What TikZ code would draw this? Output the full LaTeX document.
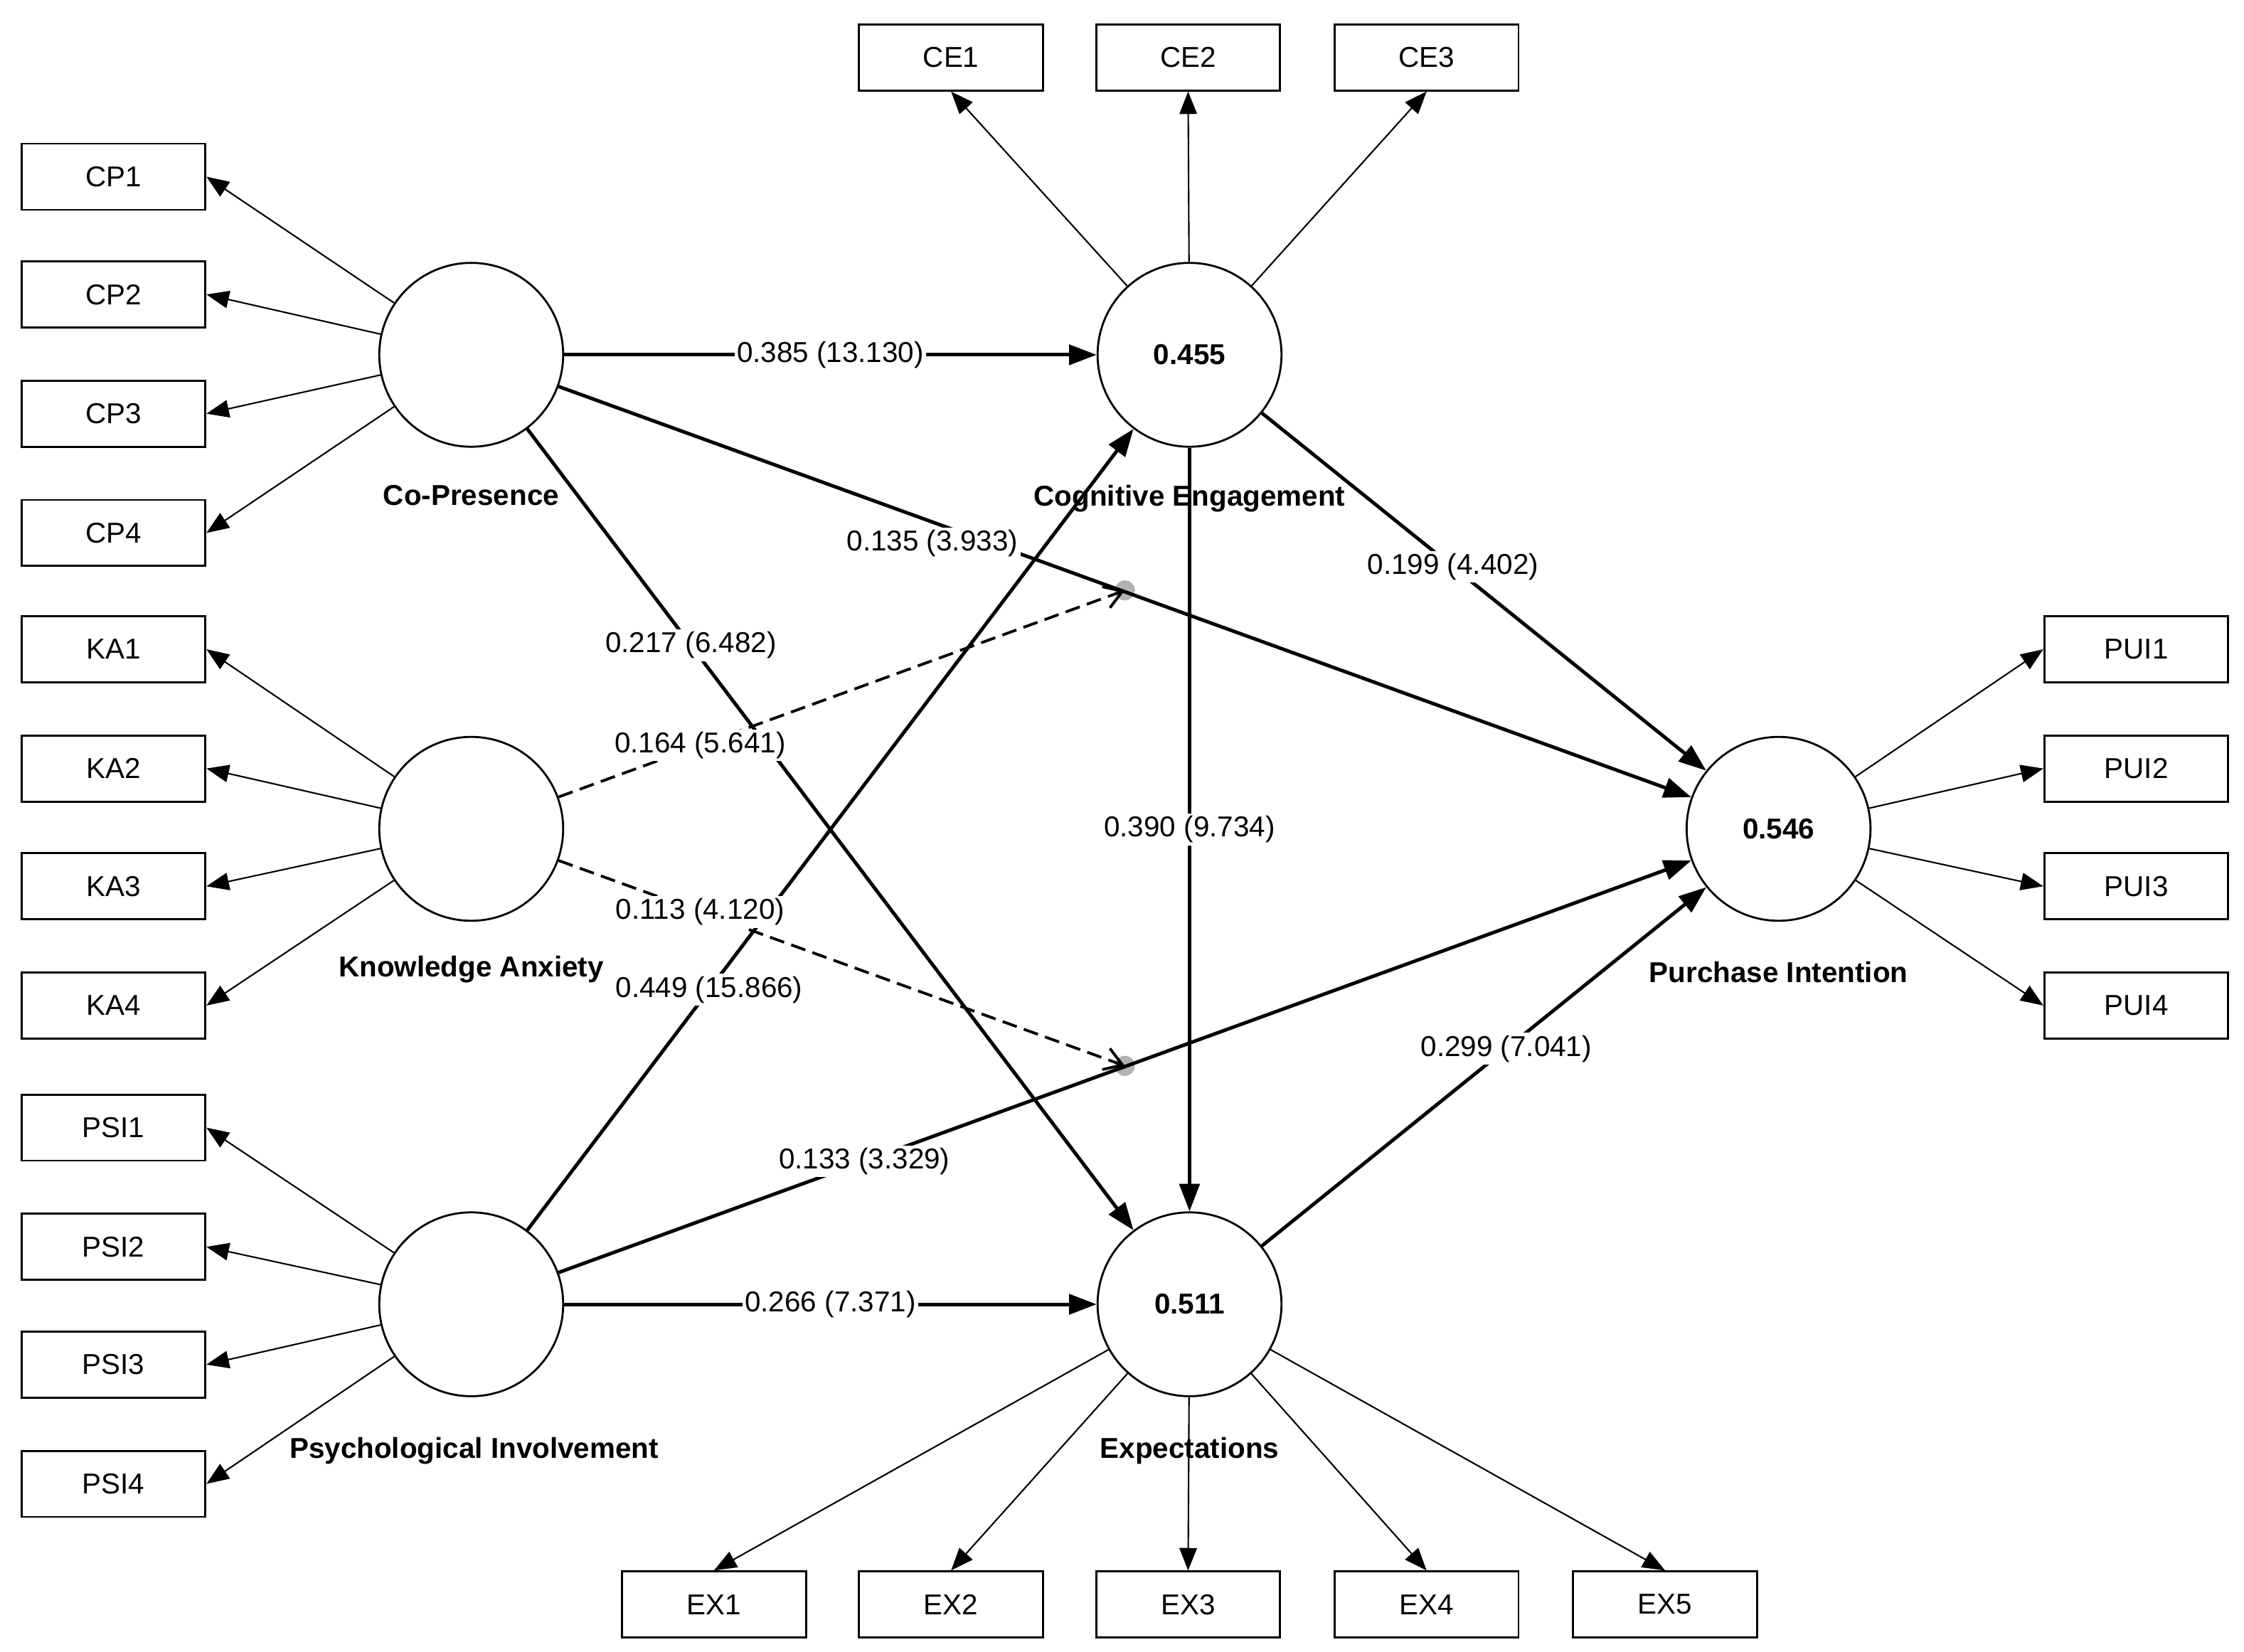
\documentclass[tikz,border=0pt]{standalone}
\usepackage{fontspec}
\setmainfont{Liberation Sans}
\usetikzlibrary{arrows.meta}
\begin{document}
\begin{tikzpicture}[x=0.0202cm,y=-0.0202cm,
 box/.style={draw,thick,minimum width=128*0.0202cm,minimum height=46*0.0202cm,inner sep=0pt,font=\fontsize{11.5}{13}\selectfont},
 lv/.style={draw,thick,circle,minimum size=128*0.0202cm,inner sep=0pt,font=\bfseries\fontsize{11.5}{13}\selectfont},
 lab/.style={font=\bfseries\fontsize{11.5}{13}\selectfont},
 coef/.style={fill=white,inner sep=1pt,font=\fontsize{11.5}{13}\selectfont},
 ld/.style={-{Triangle[length=9pt,width=7pt]},semithick},
 st/.style={-{Triangle[length=11pt,width=8pt]},line width=1.4pt},
 md/.style={-{Straight Barb[length=7pt,width=9pt]},line width=1.1pt,dashed,dash pattern=on 6pt off 3pt}]
\useasboundingbox (0,0) rectangle (1562,1150);
\foreach \n/\y in {CP1/123,CP2/205,CP3/288,CP4/371,KA1/452,KA2/535,KA3/617,KA4/700,PSI1/785,PSI2/868,PSI3/950,PSI4/1033}
  \node[box] (\n) at (79,\y) {\n};
\foreach \n/\y in {PUI1/452,PUI2/535,PUI3/617,PUI4/700}
  \node[box] (\n) at (1487,\y) {\n};
\foreach \n/\x in {CE1/662,CE2/827,CE3/993}
  \node[box] (\n) at (\x,40) {\n};
\foreach \n/\x in {EX1/497,EX2/662,EX3/827,EX4/993,EX5/1159}
  \node[box] (\n) at (\x,1117) {\n};
\node[lv] (cp) at (328,247) {};
\node[lv] (ka) at (328,577) {};
\node[lv] (psi) at (328,908) {};
\node[lv] (ce) at (828,247) {0.455};
\node[lv] (ex) at (828,908) {0.511};
\node[lv] (pi) at (1238,577) {0.546};
\node[lab] at (328,345) {Co-Presence};
\node[lab] at (328,675) {Knowledge Anxiety};
\node[lab] at (330,1010) {Psychological Involvement};
\node[lab] at (828,347) {Cognitive Engagement};
\node[lab] at (828,1010) {Expectations};
\node[lab] at (1238,677) {Purchase Intention};
\fill[gray!60] (783,411) circle (7) coordinate (m1);
\fill[gray!60] (783,742) circle (7) coordinate (m2);
\coordinate (m1) at (783,411);
\coordinate (m2) at (783,742);
% loadings
\foreach \n in {CP1,CP2,CP3,CP4} \draw[ld] (cp) -- (\n.east);
\foreach \n in {KA1,KA2,KA3,KA4} \draw[ld] (ka) -- (\n.east);
\foreach \n in {PSI1,PSI2,PSI3,PSI4} \draw[ld] (psi) -- (\n.east);
\foreach \n in {PUI1,PUI2,PUI3,PUI4} \draw[ld] (pi) -- (\n.west);
\foreach \n in {CE1,CE2,CE3} \draw[ld] (ce) -- (\n.south);
\foreach \n in {EX1,EX2,EX3,EX4,EX5} \draw[ld] (ex) -- (\n.north);
% structural
\draw[st] (cp) -- node[coef]{0.385 (13.130)} (ce);
\draw[st] (cp) -- node[coef,pos=0.33,yshift=-0.3cm]{0.135 (3.933)} (pi);
\draw[st] (cp) -- node[coef,pos=0.27]{0.217 (6.482)} (ex);
\draw[st] (psi) -- node[coef,pos=0.3]{0.449 (15.866)} (ce);
\draw[st] (psi) -- node[coef,pos=0.27]{0.133 (3.329)} (pi);
\draw[st] (psi) -- node[coef]{0.266 (7.371)} (ex);
\draw[st] (ce) -- node[coef]{0.390 (9.734)} (ex);
\draw[st] (ce) -- node[coef,pos=0.43]{0.199 (4.402)} (pi);
\draw[st] (ex) -- node[coef,pos=0.55]{0.299 (7.041)} (pi);
\draw[md] (ka) -- node[coef,pos=0.25]{0.164 (5.641)} (m1);
\draw[md] (ka) -- node[coef,pos=0.25]{0.113 (4.120)} (m2);
\end{tikzpicture}
\end{document}
